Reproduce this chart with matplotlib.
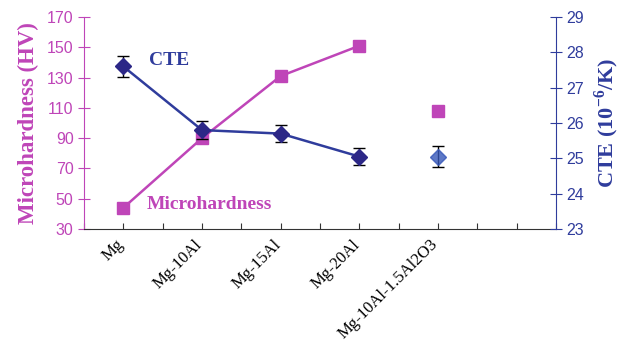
import numpy as np
import matplotlib
matplotlib.use('Agg')
import matplotlib.pyplot as plt

plt.rcParams['mathtext.fontset'] = 'custom'
plt.rcParams['mathtext.rm'] = 'Liberation Serif:bold'
plt.rcParams['mathtext.bf'] = 'Liberation Serif:bold'

# data
categories = ['Mg', 'Mg-10Al', 'Mg-15Al', 'Mg-20Al', 'Mg-10Al-1.5Al2O3']
hardness = [44, 90, 131, 151, 108]
hardness_err = [1.5, 3, 2.5, 3, 0]
cte = [27.6, 25.8, 25.7, 25.05, 25.05]
cte_err = [0.3, 0.25, 0.25, 0.25, 0.3]

MAG = '#BF45B8'
BLUE = '#2F3C9C'
NAVY = '#2C2787'

fig = plt.figure(figsize=(6.25, 3.45), dpi=100)
ax = fig.add_axes([0.1344, 0.3362, 0.7552, 0.6145])
ax2 = ax.twinx()

x = np.arange(len(categories)) + 0.5

# microhardness (left axis)
ax.plot(x[:4], hardness[:4], color=MAG, lw=1.8, zorder=2)
ax.errorbar(x, hardness, yerr=hardness_err, fmt='none', ecolor='k',
            elinewidth=1, capsize=4, zorder=3)
ax.plot(x, hardness, 's', color=MAG, ms=9, zorder=4)

# CTE (right axis)
ax2.plot(x[:4], cte[:4], color=BLUE, lw=1.8, zorder=2)
ax2.errorbar(x, cte, yerr=cte_err, fmt='none', ecolor='k',
             elinewidth=1, capsize=4, zorder=3)
ax2.plot(x[:4], cte[:4], 'D', color=NAVY, ms=8, zorder=4)
ax2.plot(x[4:], cte[4:], 'D', color='#3556B8', ms=8, alpha=0.8, zorder=4)

ax.set_xlim(0, 6)
ax.set_ylim(30, 170)
ax.set_yticks(np.arange(30, 171, 20))
ax2.set_ylim(23, 29)
ax2.set_yticks(np.arange(23, 30, 1))

ax.set_xticks(np.arange(0, 6.01, 0.5))
ax.set_xticklabels([''] * 13)
for xi, lab in zip(x, categories):
    ax.text(xi - 0.1, 25, lab, rotation=45, ha='right', va='top',
            rotation_mode='anchor', family='Liberation Serif', fontsize=12,
            transform=ax.transData, clip_on=False)

for a in (ax, ax2):
    a.spines['top'].set_visible(False)
    a.tick_params(axis='x', direction='in', length=4, color='#333333')
ax.spines['bottom'].set_color('#333333')
ax.spines['left'].set_color(MAG)
ax.spines['right'].set_visible(False)
ax2.spines['left'].set_visible(False)
ax2.spines['bottom'].set_visible(False)
ax2.spines['right'].set_color(BLUE)

ax.tick_params(axis='y', direction='inout', length=8, color=MAG,
               labelcolor=MAG, labelsize=11.5)
ax2.tick_params(axis='y', direction='inout', length=8, color=BLUE,
                labelcolor=BLUE, labelsize=11.5)
for lab in ax.get_yticklabels() + ax2.get_yticklabels():
    lab.set_family('Liberation Sans')

ax.set_ylabel('Microhardness (HV)', color=MAG, family='Liberation Serif',
              fontweight='bold', fontsize=16.5, labelpad=6)
ax2.set_ylabel('CTE (10$^{-6}$/K)', color=BLUE, family='Liberation Serif',
               fontweight='bold', fontsize=16, labelpad=6)

ax.text(0.82, 141, 'CTE', color=BLUE, family='Liberation Serif',
        fontweight='bold', fontsize=14, va='center')
ax.text(0.8, 46, 'Microhardness', color=MAG, family='Liberation Serif',
        fontweight='bold', fontsize=14, va='center')

fig.savefig('out.png', dpi=100)
